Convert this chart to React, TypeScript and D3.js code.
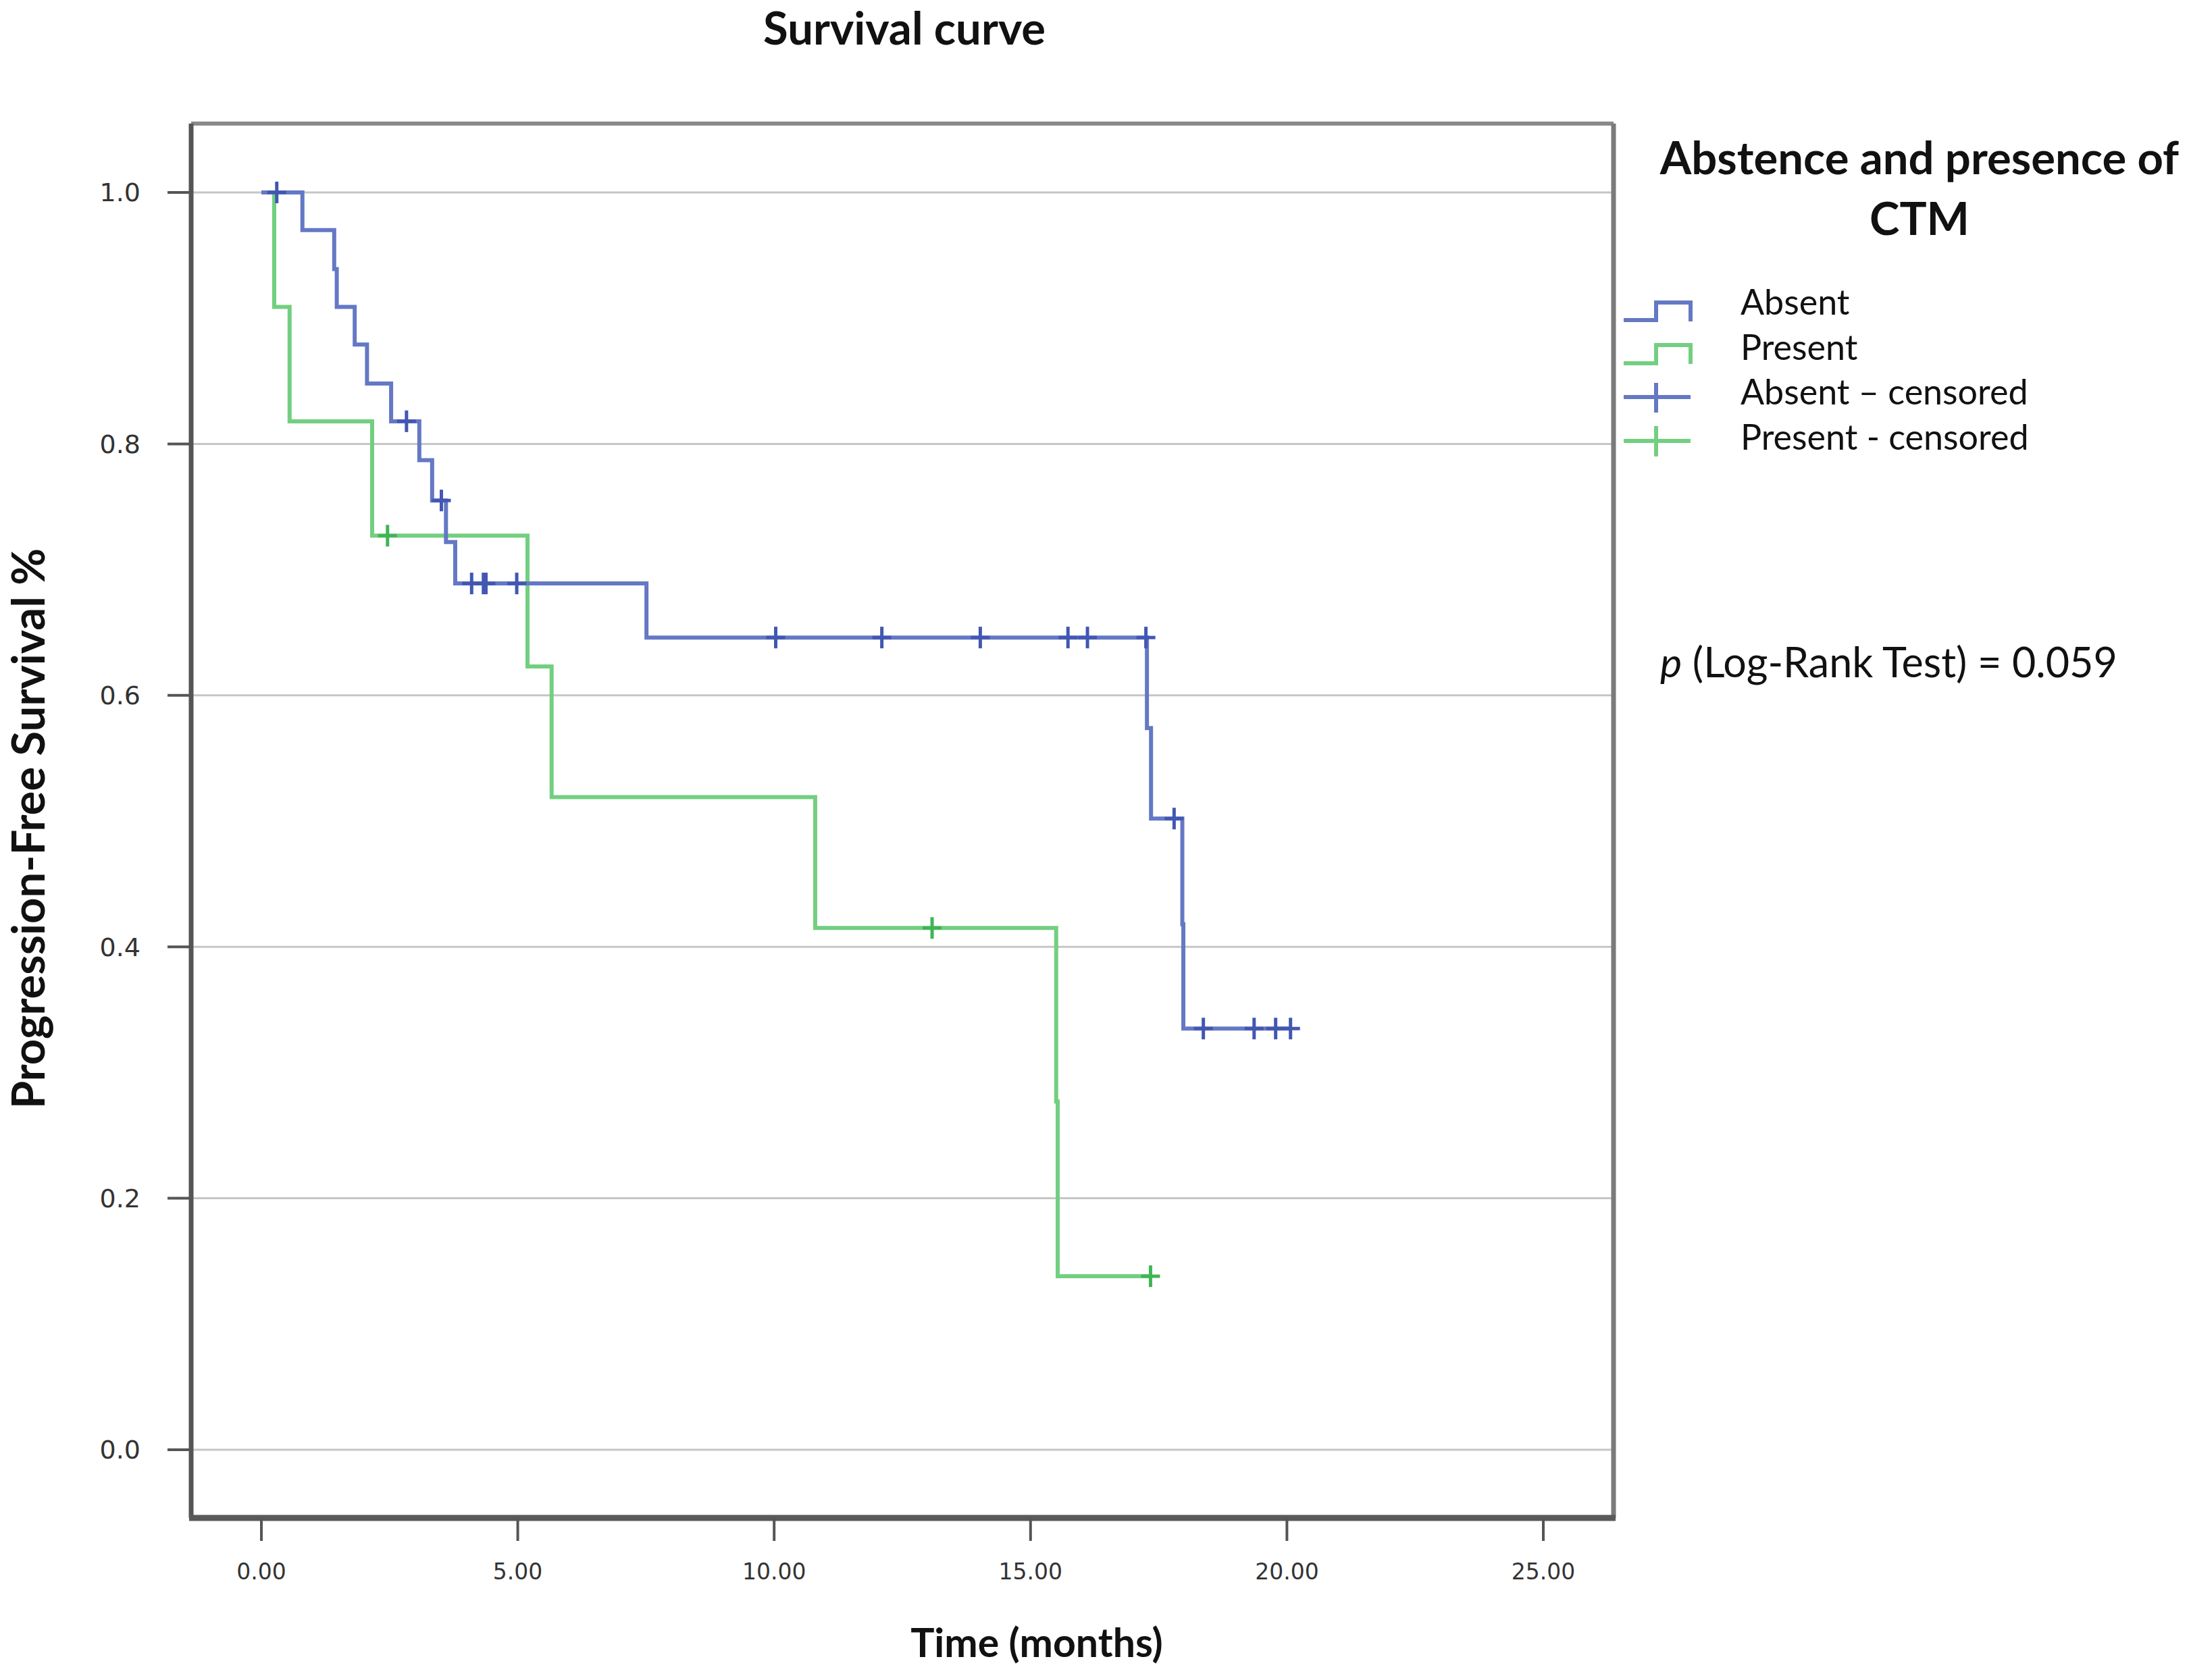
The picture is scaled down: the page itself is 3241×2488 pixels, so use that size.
import React from 'react';
import * as d3 from 'd3';

// Kaplan-Meier steps (time in months, survival after the step)
const absentTimes = [0, 0.8, 1.42, 1.47, 1.82, 2.06, 2.53, 3.08, 3.33, 3.6, 3.78, 7.51, 17.27, 17.35, 17.96, 17.98, 20.07];
const absentSurv = [1, 0.97, 0.939, 0.909, 0.879, 0.848, 0.818, 0.787, 0.755, 0.722, 0.689, 0.646, 0.574, 0.502, 0.418, 0.335, 0.335];
const absentCensorTimes = [0.3, 2.83, 3.51, 4.1, 4.33, 4.38, 4.98, 10.03, 12.1, 14.02, 15.73, 16.11, 17.25, 17.8, 18.37, 19.36, 19.78, 20.07];
const absentCensorSurv = [1, 0.818, 0.755, 0.689, 0.689, 0.689, 0.689, 0.646, 0.646, 0.646, 0.646, 0.646, 0.646, 0.502, 0.335, 0.335, 0.335, 0.335];

const presentTimes = [0, 0.25, 0.55, 2.16, 5.19, 5.66, 10.8, 15.5, 15.53, 17.34];
const presentSurv = [1, 0.909, 0.818, 0.727, 0.623, 0.519, 0.415, 0.277, 0.138, 0.138];
const presentCensorTimes = [2.46, 13.08, 17.34];
const presentCensorSurv = [0.727, 0.415, 0.138];

const xTicks = [0, 5, 10, 15, 20, 25];
const yTicks = [0, 0.2, 0.4, 0.6, 0.8, 1.0];
const legendLabels = ['Absent', 'Present', 'Absent \u2013 censored', 'Present - censored'];

const W = 3241;
const H = 2488;
const frame = { left: 283, top: 183, right: 2389, bottom: 2248 };

const BLUE = '#6478c4';
const BLUE_DARK = '#4257b2';
const GREEN = '#72cf80';
const GREEN_DARK = '#3fb554';

const x = d3.scaleLinear().domain([0, 25]).range([387, 2285]);
const y = d3.scaleLinear().domain([0, 1]).range([2147, 285]);

type Pt = { t: number; s: number };
const zip = (ts: number[], ss: number[]): Pt[] => ts.map((t, i) => ({ t, s: ss[i] }));

const stepLine = d3.line<Pt>().x(d => x(d.t)).y(d => y(d.s)).curve(d3.curveStepAfter);

const Censor: React.FC<{ p: Pt; color: string }> = ({ p, color }) => (
  <g>
    <line x1={x(p.t) - 14} x2={x(p.t) + 14} y1={y(p.s)} y2={y(p.s)} stroke={color} strokeWidth={5} />
    <line x1={x(p.t)} x2={x(p.t)} y1={y(p.s) - 16} y2={y(p.s) + 16} stroke={color} strokeWidth={5} />
  </g>
);

const App: React.FC = () => {
  const absent = zip(absentTimes, absentSurv);
  const present = zip(presentTimes, presentSurv);
  const absentCens = zip(absentCensorTimes, absentCensorSurv);
  const presentCens = zip(presentCensorTimes, presentCensorSurv);

  const font = 'Lato, "Open Sans", sans-serif';
  const tickFont = '"DejaVu Sans", Verdana, sans-serif';

  return (
    <svg width={W} height={H} style={{ position: 'absolute', left: 0, top: 0, background: '#fff' }}>
      <rect width={W} height={H} fill="#fff" />

      <text x={1339} y={66} textAnchor="middle" fontFamily={font} fontWeight={700} fontSize={67} fill="#111">
        Survival curve
      </text>

      {/* gridlines */}
      {yTicks.map(v => (
        <line key={'g' + v} x1={frame.left} x2={frame.right} y1={y(v)} y2={y(v)} stroke="#c6c6c6" strokeWidth={3} />
      ))}

      {/* frame */}
      <line x1={frame.left} x2={frame.right} y1={frame.top} y2={frame.top} stroke="#8a8a8a" strokeWidth={6} />
      <line x1={frame.right} x2={frame.right} y1={frame.top} y2={frame.bottom} stroke="#7a7a7a" strokeWidth={7} />
      <line x1={frame.left} x2={frame.left} y1={frame.top} y2={frame.bottom} stroke="#555" strokeWidth={7} />
      <line x1={frame.left - 3} x2={frame.right + 3} y1={frame.bottom} y2={frame.bottom} stroke="#5a5a5a" strokeWidth={9} />

      {/* y axis */}
      {yTicks.map(v => (
        <g key={'y' + v}>
          <line x1={248} x2={frame.left} y1={y(v)} y2={y(v)} stroke="#555" strokeWidth={4} />
          <text x={208} y={y(v)} dy="0.35em" textAnchor="end" fontFamily={tickFont} fontSize={38} fill="#333">
            {v.toFixed(1)}
          </text>
        </g>
      ))}
      <text
        transform={`translate(66,1227) rotate(-90)`}
        textAnchor="middle"
        fontFamily={font}
        fontWeight={700}
        fontSize={67}
        fill="#111"
      >
        Progression-Free Survival %
      </text>

      {/* x axis */}
      {xTicks.map(v => (
        <g key={'x' + v}>
          <line x1={x(v)} x2={x(v)} y1={frame.bottom} y2={2282} stroke="#555" strokeWidth={4} />
          <text x={x(v)} y={2327} dy="0.35em" textAnchor="middle" fontFamily={tickFont} fontSize={33} fill="#333">
            {v.toFixed(2)}
          </text>
        </g>
      ))}
      <text x={1535} y={2454} textAnchor="middle" fontFamily={font} fontWeight={700} fontSize={59} fill="#111">
        Time (months)
      </text>

      {/* curves */}
      <path d={stepLine(present) ?? ''} fill="none" stroke={GREEN} strokeWidth={6} />
      <path d={stepLine(absent) ?? ''} fill="none" stroke={BLUE} strokeWidth={6} />
      {presentCens.map((p, i) => <Censor key={'pc' + i} p={p} color={GREEN_DARK} />)}
      {absentCens.map((p, i) => <Censor key={'ac' + i} p={p} color={BLUE_DARK} />)}

      {/* legend */}
      <text x={2842} y={258} textAnchor="middle" fontFamily={font} fontWeight={700} fontSize={67} fill="#111">
        Abstence and presence of
      </text>
      <text x={2842} y={348} textAnchor="middle" fontFamily={font} fontWeight={700} fontSize={67} fill="#111">
        CTM
      </text>
      <path d="M2404,474 H2452 V448 H2503 V476" fill="none" stroke={BLUE} strokeWidth={6} />
      <path d="M2404,538 H2452 V511 H2503 V539" fill="none" stroke={GREEN} strokeWidth={6} />
      <line x1={2404} x2={2503} y1={588} y2={588} stroke={BLUE} strokeWidth={6} />
      <line x1={2452} x2={2452} y1={567} y2={611} stroke={BLUE} strokeWidth={6} />
      <line x1={2404} x2={2503} y1={653} y2={653} stroke={GREEN} strokeWidth={6} />
      <line x1={2452} x2={2452} y1={631} y2={676} stroke={GREEN} strokeWidth={6} />
      {legendLabels.map((l, i) => (
        <text key={l} x={2577} y={466 + i * 66.7} fontFamily={font} fontSize={52} fill="#111">
          {l}
        </text>
      ))}

      <text x={2458} y={1003} fontFamily={font} fontSize={61} fill="#111">
        <tspan fontStyle="italic">p</tspan> (Log-Rank Test) = 0.059
      </text>
    </svg>
  );
};

export default App;
